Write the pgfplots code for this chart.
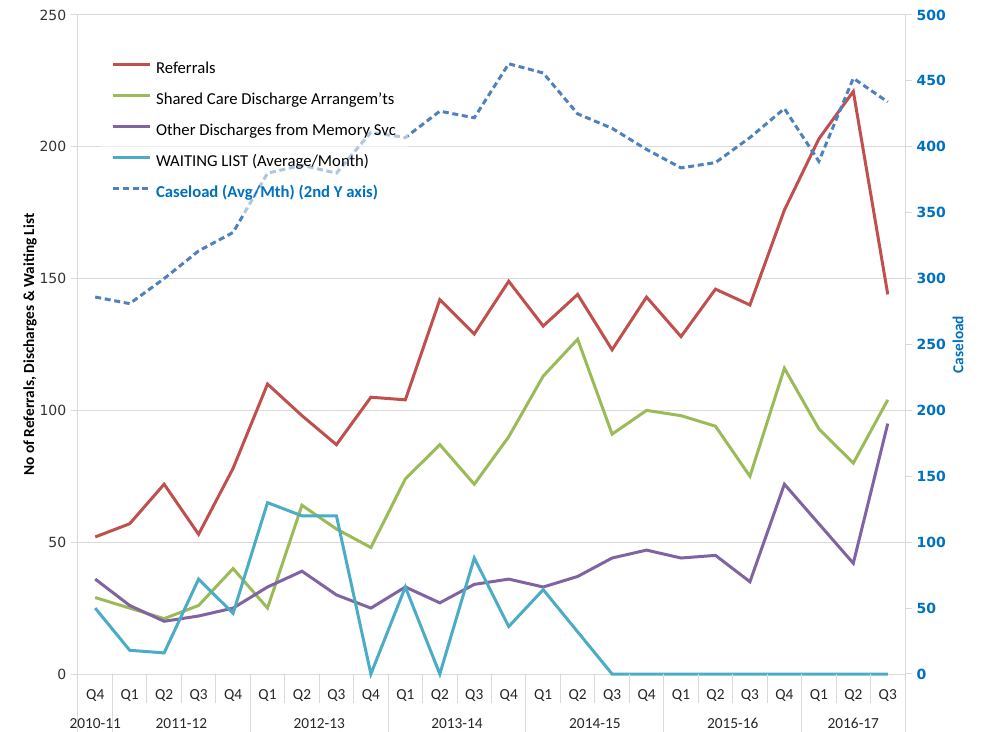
\documentclass[border=0pt]{standalone}
\usepackage{fontspec}
\setmainfont{Carlito}
\newfontfamily\tickfont{DejaVu Sans}
\usepackage{pgfplots}
\usepackage{pgfplotstable}
\pgfplotsset{compat=1.18}
\definecolor{cRef}{HTML}{C0504D}
\definecolor{cShared}{HTML}{9BBB59}
\definecolor{cOther}{HTML}{8064A2}
\definecolor{cWait}{HTML}{4BACC6}
\definecolor{cCase}{HTML}{4F81BD}
\definecolor{cBlue}{HTML}{0070C0}
\definecolor{cGrid}{HTML}{D9D9D9}

\pgfplotstableread{
x ref shared other wait case
0 52 29 36 25 286
1 57 25 26 9 281
2 72 21 20 8 300
3 53 26 22 36 321
4 78 40 25 23 335
5 110 25 33 65 380
6 98 64 39 60 386
7 87 55 30 60 380
8 105 48 25 0 411
9 104 74 33 33 407
10 142 87 27 0 427
11 129 72 34 44 422
12 149 90 36 18 463
13 132 113 33 32 456
14 144 127 37 16 425
15 123 91 44 0 414
16 143 100 47 0 398
17 128 98 44 0 384
18 146 94 45 0 388
19 140 75 35 0 407
20 176 116 72 0 429
21 203 93 57 0 389
22 221 80 42 0 452
23 144 104 95 0 434
}\data

\pgfplotsset{
  common/.style={
    at={(58.5pt,43.5pt)}, anchor=south west,
    width=620.25pt, height=494.25pt, scale only axis,
    xmin=-0.5, xmax=23.5, clip=false,
    axis line style={-, cGrid, line width=0.75pt},
    tick align=outside, major tick length=5.25pt,
    ytick style={cGrid, line width=0.75pt},
    /pgf/number format/assume math mode=true,
  },
  legend image code/.code={\draw[#1] (0pt,3.5pt) -- (27.75pt,3.5pt);},
}

\begin{document}
\begin{tikzpicture}
\path[use as bounding box] (0,0) rectangle (736.5pt,549pt);
\begin{axis}[common,
  ymin=0, ymax=250, ytick={0,50,...,250},
  axis x line*=bottom, axis y line*=left,
  ymajorgrids, grid style={cGrid, line width=0.75pt},
  xtick={0,...,23},
  xticklabels={Q4,Q1,Q2,Q3,Q4,Q1,Q2,Q3,Q4,Q1,Q2,Q3,Q4,Q1,Q2,Q3,Q4,Q1,Q2,Q3,Q4,Q1,Q2,Q3},
  xtick style={draw=none},
  xticklabel style={font=\fontsize{11.5}{13}\selectfont, text=black!85, anchor=base, yshift=-14pt},
  yticklabel style={font=\tickfont\fontsize{10.5}{12}\selectfont, text=black!80},
  ylabel={\bfseries No of Referrals, Discharges \& Waiting List},
  every axis y label/.style={at={(rel axis cs:-0.058,0.5)}, rotate=90, anchor=center, font=\fontsize{11.5}{13}\selectfont},
]
\addplot[cRef, line width=2.25pt] table[x=x,y=ref]{\data};
\addplot[cShared, line width=2.25pt] table[x=x,y=shared]{\data};
\addplot[cOther, line width=2.25pt] table[x=x,y=other]{\data};
\addplot[cWait, line width=2.25pt] table[x=x,y=wait]{\data};
\pgfplotsinvokeforeach{1.5,2.5,3.5,5.5,6.5,7.5,9.5,10.5,11.5,13.5,14.5,15.5,17.5,18.5,19.5,21.5,22.5}{
  \draw[cGrid, line width=0.75pt] (axis cs:#1,0) -- ++(0pt,-21.75pt);
}
\pgfplotsinvokeforeach{-0.5,0.5,4.5,8.5,12.5,16.5,20.5,23.5}{
  \draw[cGrid, line width=0.75pt] (axis cs:#1,0) -- ++(0pt,-43.5pt);
}
\begin{scope}[every node/.style={font=\fontsize{11.5}{13}\selectfont, text=black!85, anchor=base}]
\node[yshift=-41pt] at (axis cs:0,0) {2010-11};
\node[yshift=-41pt] at (axis cs:2.5,0) {2011-12};
\node[yshift=-41pt] at (axis cs:6.5,0) {2012-13};
\node[yshift=-41pt] at (axis cs:10.5,0) {2013-14};
\node[yshift=-41pt] at (axis cs:14.5,0) {2014-15};
\node[yshift=-41pt] at (axis cs:18.5,0) {2015-16};
\node[yshift=-41pt] at (axis cs:22,0) {2016-17};
\end{scope}
\end{axis}

\begin{axis}[common,
  ymin=0, ymax=500, ytick={0,50,...,500},
  axis y line*=right, axis x line=none,
  yticklabel style={font=\tickfont\bfseries\fontsize{10.5}{12}\selectfont, text=cBlue},
  ylabel={\bfseries Caseload},
  every axis y label/.style={at={(rel axis cs:1.064,0.5)}, rotate=90, anchor=center, font=\fontsize{11.5}{13}\selectfont, text=cBlue},
  legend style={at={(rel axis cs:0.026,0.948)}, anchor=north west,
    fill=white, fill opacity=0.55, text opacity=1, draw=none,
    inner sep=9pt, font=\fontsize{12.5}{14}\selectfont,
    nodes={inner sep=0pt, text height=9pt, text depth=3pt},
    row sep=11.25pt,
    /tikz/every odd column/.append style={column sep=3.25pt}},
  legend cell align=left,
]
\addlegendimage{cRef, line width=2.25pt}
\addlegendentry{Referrals}
\addlegendimage{cShared, line width=2.25pt}
\addlegendentry{Shared Care Discharge Arrangem'ts}
\addlegendimage{cOther, line width=2.25pt}
\addlegendentry{Other Discharges from Memory Svc}
\addlegendimage{cWait, line width=2.25pt}
\addlegendentry{WAITING LIST (Average/Month)}
\addplot[cCase, line width=2.25pt, dash pattern=on 4.5pt off 2.75pt] table[x=x,y=case]{\data};
\addlegendentry{\textcolor{cBlue}{\bfseries Caseload (Avg/Mth) (2nd Y axis)}}
\end{axis}
\end{tikzpicture}
\end{document}
